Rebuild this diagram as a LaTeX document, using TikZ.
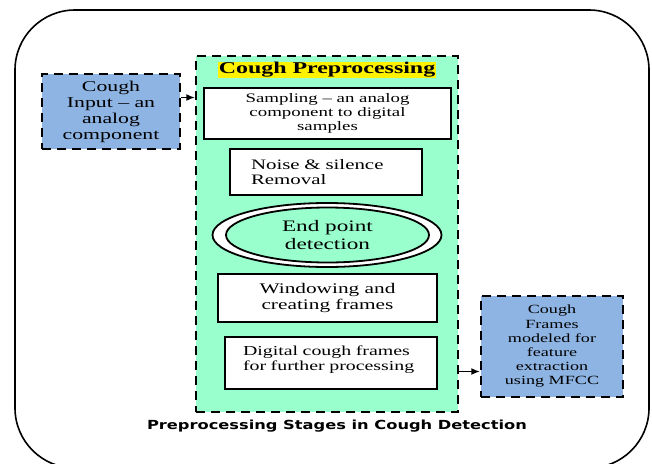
\documentclass[tikz,border=0pt]{standalone}
\usepackage{fontspec}
\setmainfont[FakeStretch=1.45]{Liberation Serif}
\newfontfamily\capfont[FakeStretch=1.3]{DejaVu Sans}
\usetikzlibrary{arrows.meta,positioning,shapes.geometric}
\definecolor{mint}{HTML}{99FFCC}
\definecolor{steel}{HTML}{8EB4E3}

\begin{document}
\begin{tikzpicture}[
  x=1pt, y=-1pt,
  >={Latex[length=3mm,width=2.4mm]},
  stage/.style={draw, line width=1.8pt, fill=white, align=center, inner sep=2pt, font=\fontsize{13}{14}\selectfont},
  ext/.style={draw, line width=2.2pt, dash pattern=on 9pt off 6pt, fill=steel, align=center, inner sep=1pt, font=\fontsize{15}{16}\selectfont},
  group/.style={draw, line width=2.2pt, dash pattern=on 9pt off 6pt, fill=mint, inner sep=0pt}
]
\useasboundingbox (0,0) rectangle (652,463);
\draw[line width=1.6pt, rounded corners=60pt] (15,10) rectangle (649,468);

% preprocessing block
\node[group, minimum width=262pt, minimum height=356pt] (grp) at (327,234) {};
\node[fill=yellow, inner sep=0.6pt, font=\bfseries\fontsize{16.5}{18}\selectfont] (ttl) at (327,70) {Cough Preprocessing};

\node[stage, minimum width=247pt, minimum height=51pt] (smp) at (327.5,113.5) {Sampling -- an analog\\component to digital\\samples};
\node[stage, minimum height=46pt, text width=150pt, inner xsep=21pt, align=left, font=\fontsize{14.4}{15.5}\selectfont] (nse) at (326,172) {Noise \& silence\\Removal};
\node[ellipse, draw, line width=1.8pt, fill=white, minimum width=229pt, minimum height=64pt] (eptout) at (327,235) {};
\node[ellipse, draw, line width=1.8pt, fill=mint, minimum width=203pt, minimum height=55pt, inner sep=0pt, align=center, font=\fontsize{16}{17.6}\selectfont] (ept) at (327.5,235) {End point\\detection};
\node[stage, minimum width=219pt, minimum height=48pt, font=\fontsize{14.7}{16}\selectfont] (win) at (327.5,298) {Windowing and\\creating frames};
\node[stage, minimum height=52pt, text width=176pt, inner xsep=18pt, inner ysep=0pt, align=left, font=\fontsize{13.7}{15}\selectfont] (dig) at (331,363) {Digital cough frames\\for further processing\\[-5pt]\mbox{}};

% outside blocks
\node[ext, minimum width=138pt, minimum height=75pt] (cin) at (111,111.5) {Cough\\Input -- an\\analog\\component};
\node[ext, minimum width=142pt, minimum height=101pt, font=\fontsize{12.5}{14.2}\selectfont] (mfcc) at (552,346.5) {Cough\\Frames\\modeled for\\feature\\extraction\\using MFCC};

\draw[->, line width=1.4pt] ([yshift=14pt]cin.east) -- ([yshift=14pt]cin.east -| grp.west);
\draw[->, line width=1.4pt] ([yshift=-25pt]mfcc.west -| grp.east) -- ([yshift=-25pt]mfcc.west);

\node[font=\capfont\bfseries\fontsize{12.5}{14}\selectfont] (cap) at (337,426) {Preprocessing Stages in Cough Detection};
\end{tikzpicture}
\end{document}
